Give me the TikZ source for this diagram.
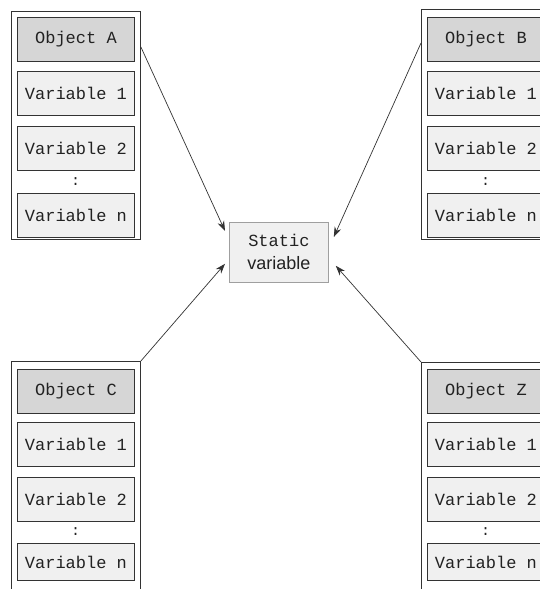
\documentclass[tikz,border=0pt]{standalone}
\usepackage{fontspec}
\newfontfamily\codefont{Liberation Mono}
\newfontfamily\labelfont{Liberation Sans}
\usetikzlibrary{arrows.meta}
\definecolor{hdrgray}{HTML}{D6D6D6}
\definecolor{cellgray}{HTML}{F0F0F0}
\definecolor{edgegray}{HTML}{333333}
\definecolor{textgray}{HTML}{222222}
\tikzset{
  objframe/.style={draw=edgegray, line width=0.9pt, fill=white, anchor=north west,
    inner sep=0pt, minimum width=129pt},
  cell/.style={draw=edgegray, line width=0.9pt, anchor=north west, inner sep=0pt,
    minimum width=117pt, minimum height=44pt, text=textgray,
    font=\codefont\fontsize{17}{19}\selectfont},
  hdrcell/.style={cell, fill=hdrgray},
  varcell/.style={cell, fill=cellgray},
  dots/.style={text=textgray, font=\codefont\fontsize{15}{15}\selectfont, inner sep=0pt},
  staticbox/.style={draw=gray!75, line width=0.8pt, fill=cellgray, anchor=north west,
    minimum width=99pt, minimum height=60pt, inner sep=0pt, text=textgray, align=center,
    font=\fontsize{17}{23}\selectfont},
  link/.style={draw=edgegray, line width=0.7pt, -{Stealth[length=10pt,width=7pt]}}
}
\begin{document}
\begin{tikzpicture}[x=1pt, y=-1pt]
\useasboundingbox (0,0) rectangle (539,589);
\fill[white] (0,0) rectangle (539,589);

% central shared member
\node[staticbox] (sv) at (229,222)
  {\codefont\fontsize{17}{23}\selectfont Static\\
   \labelfont\fontsize{18}{23}\selectfont variable};

% Object A
\node[objframe, minimum height=228pt] (fA) at (11,11) {};
\node[hdrcell] (hA) at (17,17) {Object A};
\node[varcell] (a1) at (17,71) {Variable 1};
\node[varcell] (a2) at (17,126) {Variable 2};
\node[dots] (dA) at (75.5,182) {:};
\node[varcell] (an) at (17,193) {Variable n};

% Object B
\node[objframe, minimum height=230pt] (fB) at (421,9) {};
\node[hdrcell] (hB) at (427,17) {Object B};
\node[varcell] (b1) at (427,71) {Variable 1};
\node[varcell] (b2) at (427,126) {Variable 2};
\node[dots] (dB) at (485.5,182) {:};
\node[varcell] (bn) at (427,193) {Variable n};

% Object C
\node[objframe, minimum height=240pt] (fC) at (11,361) {};
\node[hdrcell] (hC) at (17,369) {Object C};
\node[varcell] (c1) at (17,422) {Variable 1};
\node[varcell] (c2) at (17,477) {Variable 2};
\node[dots] (dC) at (75.5,532) {:};
\node[varcell, minimum height=37pt] (cn) at (17,543) {Variable n};

% Object Z
\node[objframe, minimum height=240pt] (fZ) at (421,362) {};
\node[hdrcell] (hZ) at (427,369) {Object Z};
\node[varcell] (z1) at (427,422) {Variable 1};
\node[varcell] (z2) at (427,477) {Variable 2};
\node[dots] (dZ) at (485.5,532) {:};
\node[varcell, minimum height=37pt] (zn) at (427,543) {Variable n};

% arrow anchor points on the frames and on the shared box
\coordinate (sA) at ([yshift=-36pt]fA.north east);
\coordinate (sB) at ([yshift=-34pt]fB.north west);
\coordinate (tA) at ([xshift=-4pt,yshift=-9pt]sv.north west);
\coordinate (tB) at ([xshift=5pt,yshift=-15pt]sv.north east);
\coordinate (tC) at ([xshift=-4pt,yshift=19pt]sv.south west);
\coordinate (tZ) at ([xshift=7pt,yshift=17pt]sv.south east);

\draw[link] (sA) -- (tA);
\draw[link] (sB) -- (tB);
\draw[link] (fC.north east) -- (tC);
\draw[link] (fZ.north west) -- (tZ);
\end{tikzpicture}
\end{document}
